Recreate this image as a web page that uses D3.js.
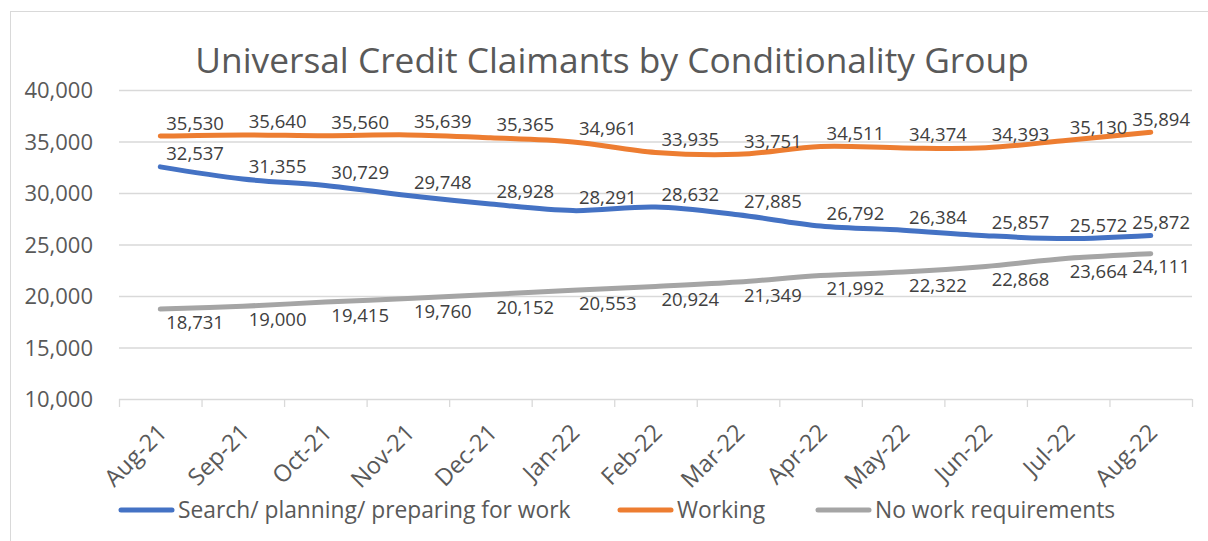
<!DOCTYPE html>
<html>
<head>
<meta charset="utf-8">
<script src="https://cdn.jsdelivr.net/npm/d3@7"></script>
<style>
  body { margin: 0; background: #fff; }
  svg { font-family: "Segoe UI", "Open Sans", "Noto Sans", sans-serif; }
</style>
</head>
<body>
<svg id="chart" width="1208" height="541"></svg>
<script>
// Universal Credit claimants, Aug-21 to Aug-22
const months = ["Aug-21", "Sep-21", "Oct-21", "Nov-21", "Dec-21", "Jan-22", "Feb-22",
  "Mar-22", "Apr-22", "May-22", "Jun-22", "Jul-22", "Aug-22"];
const searching = [32537, 31355, 30729, 29748, 28928, 28291, 28632, 27885, 26792, 26384, 25857, 25572, 25872];
const working = [35530, 35640, 35560, 35639, 35365, 34961, 33935, 33751, 34511, 34374, 34393, 35130, 35894];
const noWork = [18731, 19000, 19415, 19760, 20152, 20553, 20924, 21349, 21992, 22322, 22868, 23664, 24111];
const yTicks = [10000, 15000, 20000, 25000, 30000, 35000, 40000];

const series = [
  { name: "Search/ planning/ preparing for work", values: searching, color: "#4472C4", pos: "above" },
  { name: "Working", values: working, color: "#ED7D31", pos: "above" },
  { name: "No work requirements", values: noWork, color: "#A5A5A5", pos: "below" }
];

const svg = d3.select("#chart");
const plotL = 119, plotR = 1192, plotT = 90, plotB = 399;
const fmt = d3.format(",");

// outer chart border
svg.append("rect")
  .attr("x", 10.5).attr("y", 11.5)
  .attr("width", 1210).attr("height", 540)
  .attr("fill", "none").attr("stroke", "#d9d9d9");

const x = d3.scaleBand().domain(months).range([plotL, plotR]);
const y = d3.scaleLinear().domain([10000, 40000]).range([plotB, plotT]);
const cx = i => x(months[i]) + x.bandwidth() / 2;

// gridlines
svg.append("g").selectAll("line")
  .data(yTicks)
  .enter().append("line")
  .attr("x1", plotL).attr("x2", plotR)
  .attr("y1", d => y(d) + 0.5).attr("y2", d => y(d) + 0.5)
  .attr("stroke", "#d9d9d9").attr("stroke-width", 1.3);

// y labels
svg.append("g").selectAll("text")
  .data(yTicks)
  .enter().append("text")
  .attr("x", 93).attr("y", d => y(d) + 8)
  .attr("text-anchor", "end")
  .attr("fill", "#595959")
  .style("font-size", "22px")
  .text(d => fmt(d));

// x axis ticks
const tickPos = months.map(m => x(m)).concat([plotR]);
svg.append("g").selectAll("line")
  .data(tickPos)
  .enter().append("line")
  .attr("x1", d => d + 0.5).attr("x2", d => d + 0.5)
  .attr("y1", plotB).attr("y2", plotB + 8)
  .attr("stroke", "#d9d9d9").attr("stroke-width", 1.3);

svg.append("g").selectAll("text")
  .data(months)
  .enter().append("text")
  .attr("transform", (d, i) => `translate(${cx(i) + 8},${plotB + 35}) rotate(-45)`)
  .attr("text-anchor", "end")
  .attr("fill", "#595959")
  .style("font-size", "23.5px")
  .text(d => d);

// lines
const line = d3.line()
  .x((d, i) => cx(i))
  .y(d => y(d))
  .curve(d3.curveCatmullRom.alpha(0.5));

series.forEach(s => {
  svg.append("path")
    .datum(s.values)
    .attr("d", line)
    .attr("fill", "none")
    .attr("stroke", s.color)
    .attr("stroke-width", 5)
    .attr("stroke-linecap", "round")
    .attr("stroke-linejoin", "round");
});

// data labels: start just right of the point, kept inside the plot and apart
series.forEach(s => {
  const labels = svg.append("g").selectAll("text")
    .data(s.values)
    .enter().append("text")
    .attr("x", (d, i) => cx(i) + 6)
    .attr("y", d => s.pos === "above" ? y(d) - 6.5 : y(d) + 19.5)
    .attr("fill", "#404040")
    .style("font-size", "18.5px")
    .text(d => fmt(d))
    .nodes();
  let limit = plotR - 2;
  for (let i = labels.length - 1; i >= 0; i--) {
    const el = labels[i];
    const w = el.getComputedTextLength();
    const x0 = +el.getAttribute("x");
    if (x0 + w > limit) el.setAttribute("x", limit - w);
    limit = +el.getAttribute("x") - 5;
  }
});

// title
svg.append("text")
  .attr("x", 612).attr("y", 73)
  .attr("text-anchor", "middle")
  .attr("fill", "#595959")
  .style("font-size", "35.3px")
  .text("Universal Credit Claimants by Conditionality Group");

// legend
const legendX = [119, 618, 816];
series.forEach((s, i) => {
  const g = svg.append("g").attr("transform", `translate(${legendX[i]},510)`);
  g.append("line")
    .attr("x1", 2).attr("x2", 53)
    .attr("stroke", s.color).attr("stroke-width", 5)
    .attr("stroke-linecap", "round");
  g.append("text")
    .attr("x", 59).attr("y", 8)
    .attr("fill", "#595959")
    .style("font-size", "22.8px")
    .text(s.name);
});
</script>
</body>
</html>
